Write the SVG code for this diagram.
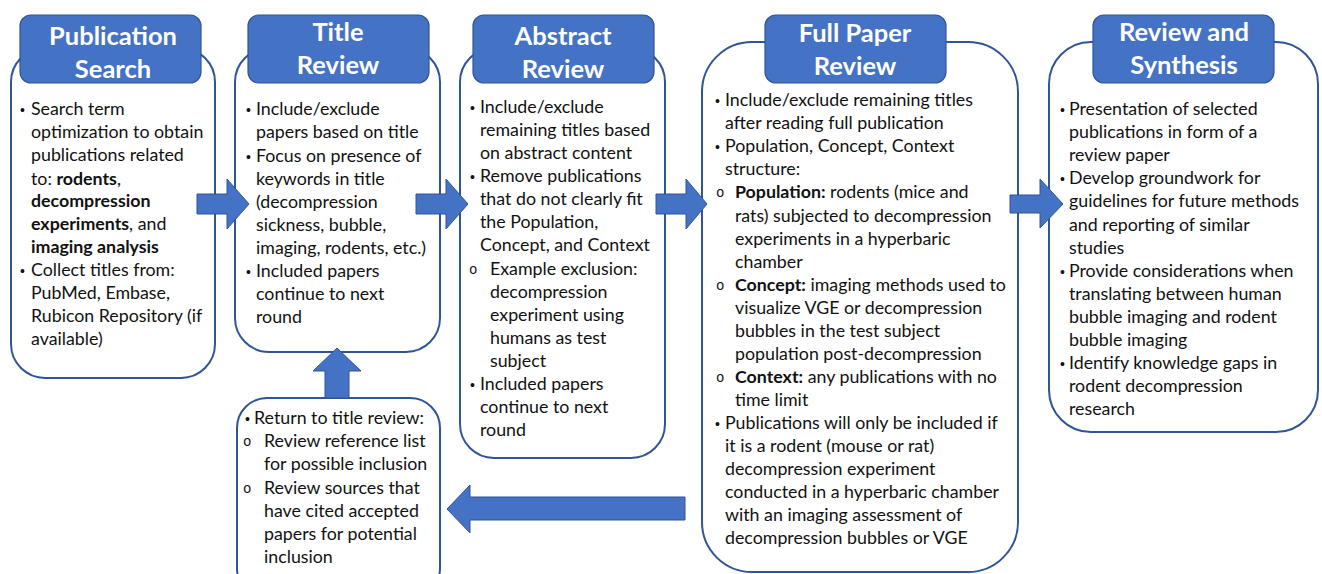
<svg xmlns="http://www.w3.org/2000/svg" width="1322" height="574" viewBox="0 0 1322 574">
<style>
.box{fill:#fff;stroke:#2F5597;stroke-width:2}
.hdr{fill:#4472C4;stroke:#2F5597;stroke-width:1.2}
.ht{font-family:Lato,"Liberation Sans",sans-serif;font-weight:bold;font-size:25.5px;fill:#fff;text-anchor:middle}
.t{font-family:Lato,"Liberation Sans",sans-serif;font-size:17.8px;fill:#111}
.b{font-weight:bold}
.bul{font-family:"Liberation Sans",sans-serif;font-size:14px;fill:#111}
.sub{font-family:"Liberation Mono",monospace;font-size:14px;fill:#111}
.arr{fill:#4472C4;stroke:#2F5597;stroke-width:1}
</style>
<rect width="1322" height="574" fill="#fff"/>
<g id="publication-search">
<rect class="box" x="11" y="48" width="204" height="330" rx="34"/>
<rect class="hdr" x="20" y="15" width="181" height="68" rx="11"/>
<text class="ht" x="113" y="45">Publication</text>
<text class="ht" x="113" y="78">Search</text>
<text class="bul" x="20" y="115">•</text>
<text class="t" x="31" y="115">Search term</text>
<text class="t" x="31" y="138">optimization to obtain</text>
<text class="t" x="31" y="161">publications related</text>
<text class="t" x="31" y="185">to: <tspan class="b">rodents</tspan>,</text>
<text class="t b" x="31" y="207">decompression</text>
<text class="t" x="31" y="230"><tspan class="b">experiments</tspan>, and</text>
<text class="t b" x="31" y="253">imaging analysis</text>
<text class="bul" x="20" y="276">•</text>
<text class="t" x="31" y="276">Collect titles from:</text>
<text class="t" x="31" y="299">PubMed, Embase,</text>
<text class="t" x="31" y="322">Rubicon Repository (if</text>
<text class="t" x="31" y="345">available)</text>
</g>
<g id="title-review">
<rect class="box" x="235" y="48" width="205" height="304" rx="34"/>
<rect class="hdr" x="248" y="15" width="181" height="68" rx="11"/>
<text class="ht" x="338" y="41">Title</text>
<text class="ht" x="338" y="74">Review</text>
<text class="bul" x="246" y="115">•</text>
<text class="t" x="256" y="115">Include/exclude</text>
<text class="t" x="256" y="138">papers based on title</text>
<text class="bul" x="246" y="162">•</text>
<text class="t" x="256" y="162">Focus on presence of</text>
<text class="t" x="256" y="185">keywords in title</text>
<text class="t" x="256" y="208">(decompression</text>
<text class="t" x="256" y="231">sickness, bubble,</text>
<text class="t" x="256" y="254">imaging, rodents, etc.)</text>
<text class="bul" x="246" y="277">•</text>
<text class="t" x="256" y="277">Included papers</text>
<text class="t" x="256" y="300">continue to next</text>
<text class="t" x="256" y="323">round</text>
</g>
<g id="abstract-review">
<rect class="box" x="460" y="48" width="205" height="410" rx="34"/>
<rect class="hdr" x="473" y="15" width="181" height="68" rx="11"/>
<text class="ht" x="563" y="45">Abstract</text>
<text class="ht" x="563" y="78">Review</text>
<text class="bul" x="470" y="113">•</text>
<text class="t" x="480" y="113">Include/exclude</text>
<text class="t" x="480" y="136">remaining titles based</text>
<text class="t" x="480" y="159">on abstract content</text>
<text class="bul" x="470" y="182">•</text>
<text class="t" x="480" y="182">Remove publications</text>
<text class="t" x="480" y="205">that do not clearly fit</text>
<text class="t" x="480" y="228">the Population,</text>
<text class="t" x="480" y="251">Concept, and Context</text>
<text class="sub" x="469" y="274">o</text>
<text class="t" x="490" y="275">Example exclusion:</text>
<text class="t" x="490" y="298">decompression</text>
<text class="t" x="490" y="321">experiment using</text>
<text class="t" x="490" y="344">humans as test</text>
<text class="t" x="490" y="367">subject</text>
<text class="bul" x="470" y="390">•</text>
<text class="t" x="480" y="390">Included papers</text>
<text class="t" x="480" y="413">continue to next</text>
<text class="t" x="480" y="436">round</text>
</g>
<g id="full-paper-review">
<rect class="box" x="702" y="42" width="316" height="530" rx="50"/>
<rect class="hdr" x="765" y="15" width="181" height="68" rx="11"/>
<text class="ht" x="855" y="42">Full Paper</text>
<text class="ht" x="855" y="75">Review</text>
<text class="bul" x="715" y="106">•</text>
<text class="t" x="725" y="106">Include/exclude remaining titles</text>
<text class="t" x="725" y="129">after reading full publication</text>
<text class="bul" x="715" y="152">•</text>
<text class="t" x="725" y="152">Population, Concept, Context</text>
<text class="t" x="725" y="175">structure:</text>
<text class="sub" x="716" y="197">o</text>
<text class="t" x="735" y="198"><tspan class="b">Population:</tspan> rodents (mice and</text>
<text class="t" x="735" y="222">rats) subjected to decompression</text>
<text class="t" x="735" y="245">experiments in a hyperbaric</text>
<text class="t" x="735" y="268">chamber</text>
<text class="sub" x="716" y="290">o</text>
<text class="t" x="735" y="291"><tspan class="b">Concept:</tspan> imaging methods used to</text>
<text class="t" x="735" y="314">visualize VGE or decompression</text>
<text class="t" x="735" y="337">bubbles in the test subject</text>
<text class="t" x="735" y="360">population post-decompression</text>
<text class="sub" x="716" y="382">o</text>
<text class="t" x="735" y="383"><tspan class="b">Context:</tspan> any publications with no</text>
<text class="t" x="735" y="406">time limit</text>
<text class="bul" x="715" y="429">•</text>
<text class="t" x="725" y="429">Publications will only be included if</text>
<text class="t" x="725" y="452">it is a rodent (mouse or rat)</text>
<text class="t" x="725" y="475">decompression experiment</text>
<text class="t" x="725" y="498">conducted in a hyperbaric chamber</text>
<text class="t" x="725" y="521">with an imaging assessment of</text>
<text class="t" x="725" y="544">decompression bubbles or VGE</text>
</g>
<g id="review-synthesis">
<rect class="box" x="1049" y="42" width="269" height="390" rx="42"/>
<rect class="hdr" x="1093" y="15" width="181" height="68" rx="11"/>
<text class="ht" x="1184" y="41">Review and</text>
<text class="ht" x="1184" y="74">Synthesis</text>
<text class="bul" x="1060" y="115">•</text>
<text class="t" x="1069" y="115">Presentation of selected</text>
<text class="t" x="1069" y="138">publications in form of a</text>
<text class="t" x="1069" y="161">review paper</text>
<text class="bul" x="1060" y="184">•</text>
<text class="t" x="1069" y="184">Develop groundwork for</text>
<text class="t" x="1069" y="207">guidelines for future methods</text>
<text class="t" x="1069" y="231">and reporting of similar</text>
<text class="t" x="1069" y="254">studies</text>
<text class="bul" x="1060" y="277">•</text>
<text class="t" x="1069" y="277">Provide considerations when</text>
<text class="t" x="1069" y="300">translating between human</text>
<text class="t" x="1069" y="323">bubble imaging and rodent</text>
<text class="t" x="1069" y="346">bubble imaging</text>
<text class="bul" x="1060" y="369">•</text>
<text class="t" x="1069" y="369">Identify knowledge gaps in</text>
<text class="t" x="1069" y="392">rodent decompression</text>
<text class="t" x="1069" y="415">research</text>
</g>
<g id="return-title-review">
<rect class="box" x="237" y="398" width="203" height="200" rx="30"/>
<text class="bul" x="245" y="424">•</text>
<text class="t" x="254" y="424">Return to title review:</text>
<text class="sub" x="243" y="446">o</text>
<text class="t" x="264" y="447">Review reference list</text>
<text class="t" x="264" y="470">for possible inclusion</text>
<text class="sub" x="243" y="493">o</text>
<text class="t" x="264" y="494">Review sources that</text>
<text class="t" x="264" y="517">have cited accepted</text>
<text class="t" x="264" y="540">papers for potential</text>
<text class="t" x="264" y="563">inclusion</text>
</g>
<g id="connectors">
<polygon class="arr" points="197,194 227,194 227,179 249,204 227,229 227,214 197,214"/>
<polygon class="arr" points="416,194 446,194 446,179 468,204 446,229 446,214 416,214"/>
<polygon class="arr" points="656,194 686,194 686,179 707,204 686,229 686,214 656,214"/>
<polygon class="arr" points="1010,195 1040,195 1040,179 1063,204 1040,228 1040,213 1010,213"/>
<polygon class="arr" points="325,398 325,371 313,371 337,348 361,371 349,371 349,398"/>
<polygon class="arr" points="685,497 470,497 470,485 447,509 470,533 470,520 685,520"/>
</g>
</svg>
